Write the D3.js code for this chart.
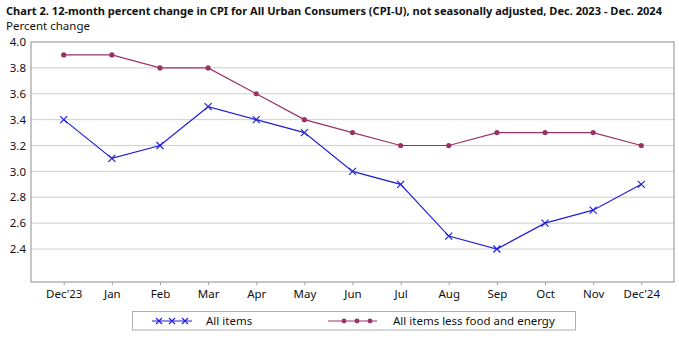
<!DOCTYPE html>
<html>
<head>
<meta charset="utf-8">
<script src="https://cdn.jsdelivr.net/npm/d3@7"></script>
<style>
  body { margin: 0; background: #fff; }
  text { font-family: "Noto Sans", "DejaVu Sans", sans-serif; fill: #111; }
</style>
</head>
<body>
<div id="chart"></div>
<script>
// months and 12-month percent changes
var months = ["Dec'23", "Jan", "Feb", "Mar", "Apr", "May", "Jun", "Jul", "Aug", "Sep", "Oct", "Nov", "Dec'24"];
var allItems = [3.4, 3.1, 3.2, 3.5, 3.4, 3.3, 3.0, 2.9, 2.5, 2.4, 2.6, 2.7, 2.9];
var coreItems = [3.9, 3.9, 3.8, 3.8, 3.6, 3.4, 3.3, 3.2, 3.2, 3.3, 3.3, 3.3, 3.2];
var yTicks = [2.4, 2.6, 2.8, 3.0, 3.2, 3.4, 3.6, 3.8, 4.0];
var seriesNames = ["All items", "All items less food and energy"];

var svgWidth = 679;
var svgHeight = 339;
var margin = { top: 42, right: 5, bottom: 57, left: 31 };
var chartWidth = svgWidth - margin.left - margin.right;
var chartHeight = svgHeight - margin.top - margin.bottom;

var blue = "#2020d8";
var purple = "#993366";

var svg = d3.select("#chart").append("svg")
    .attr("width", svgWidth)
    .attr("height", svgHeight);

// title and axis caption
svg.append("text")
    .attr("x", 6).attr("y", 15)
    .attr("font-size", "11px")
    .attr("font-weight", "bold")
    .attr("textLength", 656)
    .attr("lengthAdjust", "spacingAndGlyphs")
    .text("Chart 2. 12-month percent change in CPI for All Urban Consumers (CPI-U), not seasonally adjusted, Dec. 2023 - Dec. 2024");

svg.append("text")
    .attr("x", 6).attr("y", 30)
    .attr("font-size", "11.5px")
    .text("Percent change");

var chartGroup = svg.append("g")
    .attr("transform", `translate(${margin.left}, ${margin.top})`);

var xScale = d3.scalePoint()
    .domain(months)
    .range([0, chartWidth])
    .padding(0.68);

var yScale = d3.scaleLinear()
    .domain([2.145, 4.0])
    .range([chartHeight, 0]);

// horizontal gridlines
chartGroup.append("g")
    .selectAll("line")
    .data(yTicks.slice(0, -1))
    .enter().append("line")
    .attr("x1", 0).attr("x2", chartWidth)
    .attr("y1", d => yScale(d)).attr("y2", d => yScale(d))
    .attr("stroke", "#d0d0d0")
    .attr("stroke-width", 1);

// plot frame
chartGroup.append("rect")
    .attr("x", 0).attr("y", 0)
    .attr("width", chartWidth).attr("height", chartHeight)
    .attr("fill", "none")
    .attr("stroke", "#a0a0a0")
    .attr("stroke-width", 1.2);

var yAxis = d3.axisLeft(yScale).tickValues(yTicks).tickFormat(d3.format(".1f")).tickSize(0).tickPadding(5);
var xAxis = d3.axisBottom(xScale).tickSize(3).tickPadding(5);

var yg = chartGroup.append("g").call(yAxis);
yg.select(".domain").remove();
yg.selectAll("text").attr("font-size", "11.5px").style("font-family", "Noto Sans, DejaVu Sans, sans-serif").attr("fill", "#111");

var xg = chartGroup.append("g")
    .attr("transform", `translate(0, ${chartHeight})`)
    .call(xAxis);
xg.select(".domain").remove();
xg.selectAll("line").attr("stroke", "#a0a0a0");
xg.selectAll("text").attr("font-size", "11.5px").style("font-family", "Noto Sans, DejaVu Sans, sans-serif").attr("fill", "#111");

var line = d3.line()
    .x((d, i) => xScale(months[i]))
    .y(d => yScale(d));

// core series
chartGroup.append("path")
    .datum(coreItems)
    .attr("d", line)
    .attr("fill", "none")
    .attr("stroke", purple)
    .attr("stroke-width", 1.2);

chartGroup.selectAll(".coreDot")
    .data(coreItems)
    .enter().append("circle")
    .attr("class", "coreDot")
    .attr("cx", (d, i) => xScale(months[i]))
    .attr("cy", d => yScale(d))
    .attr("r", 2.6)
    .attr("fill", purple);

// all items series
chartGroup.append("path")
    .datum(allItems)
    .attr("d", line)
    .attr("fill", "none")
    .attr("stroke", blue)
    .attr("stroke-width", 1.2);

function cross(g, x, y, s, color) {
    g.append("path")
        .attr("d", `M${x - s},${y - s}L${x + s},${y + s}M${x - s},${y + s}L${x + s},${y - s}`)
        .attr("stroke", color)
        .attr("stroke-width", 1.2)
        .attr("fill", "none");
}

allItems.forEach(function(d, i) {
    cross(chartGroup, xScale(months[i]), yScale(d), 3.5, blue);
});

// legend
var legend = svg.append("g");
legend.append("rect")
    .attr("x", 132.5).attr("y", 311.5)
    .attr("width", 443).attr("height", 18.5)
    .attr("fill", "#fff")
    .attr("stroke", "#b0b0b0")
    .attr("stroke-width", 1);

var ly = 321;
legend.append("line")
    .attr("x1", 152).attr("x2", 192).attr("y1", ly).attr("y2", ly)
    .attr("stroke", blue).attr("stroke-width", 1.2);
[159, 172, 185].forEach(function(x) { cross(legend, x, ly, 3, blue); });
legend.append("text")
    .attr("x", 206).attr("y", ly + 4)
    .attr("font-size", "11.5px")
    .text(seriesNames[0]);

legend.append("line")
    .attr("x1", 328).attr("x2", 377).attr("y1", ly).attr("y2", ly)
    .attr("stroke", purple).attr("stroke-width", 1.2);
[344, 357, 370].forEach(function(x) {
    legend.append("circle").attr("cx", x).attr("cy", ly).attr("r", 2.4).attr("fill", purple);
});
legend.append("text")
    .attr("x", 393).attr("y", ly + 4)
    .attr("font-size", "11.5px")
    .text(seriesNames[1]);
</script>
</body>
</html>
